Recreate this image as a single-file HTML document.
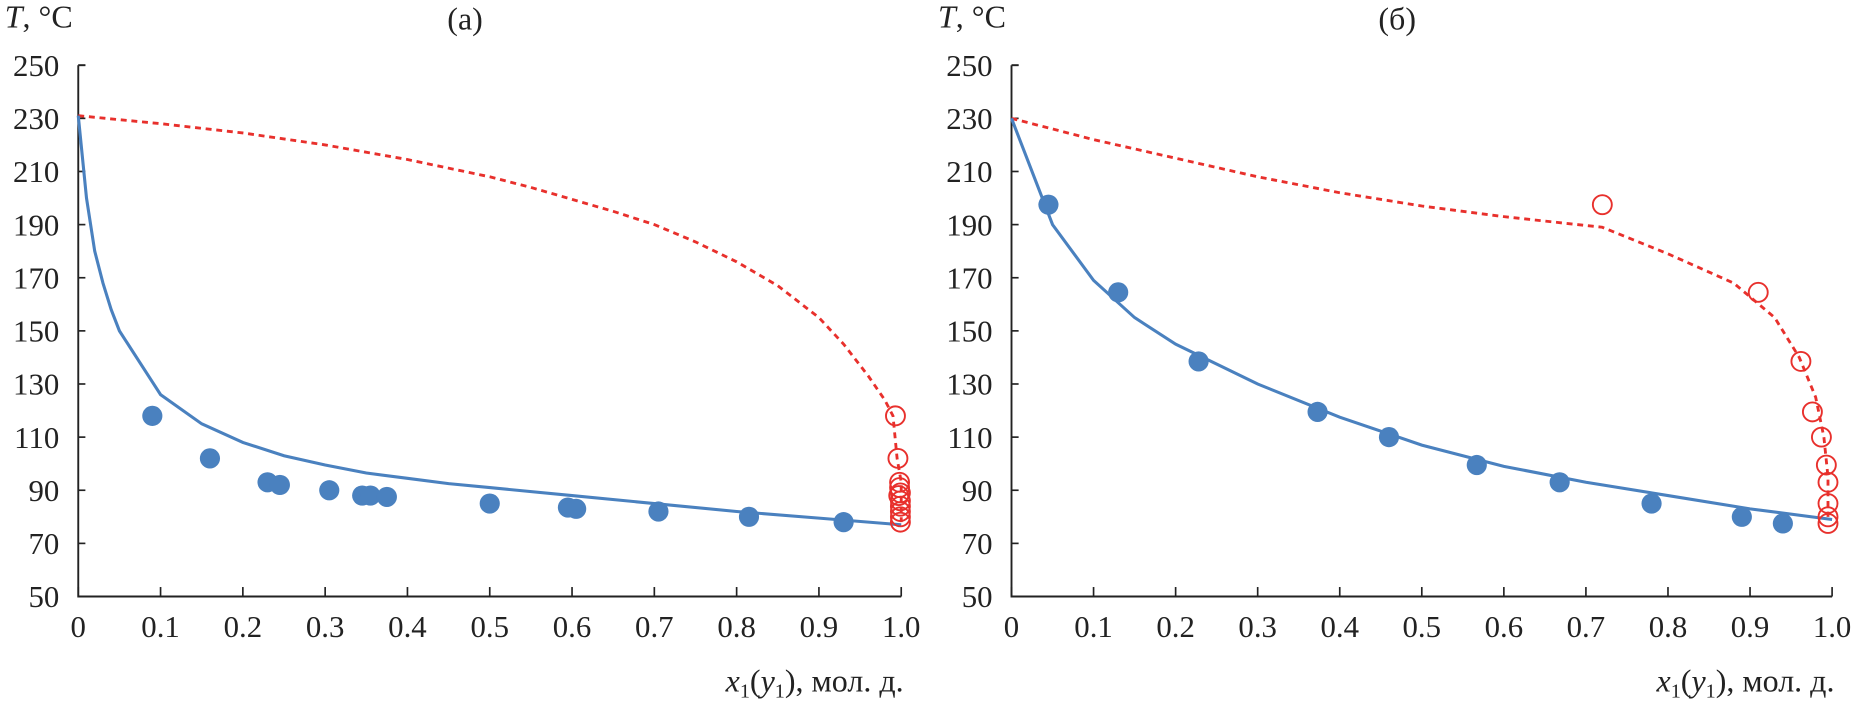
<!DOCTYPE html>
<html><head><meta charset="utf-8"><style>
html,body{margin:0;padding:0;background:#fff;}
svg{display:block;font-family:"Liberation Serif",serif;}
</style></head><body>
<svg id="chart" width="1857" height="710" viewBox="0 0 1566 598.7" preserveAspectRatio="none" xmlns="http://www.w3.org/2000/svg"></svg>
<script>
const yTicks=[50,70,90,110,130,150,170,190,210,230,250];
const xTicks=[0,0.1,0.2,0.3,0.4,0.5,0.6,0.7,0.8,0.9,1.0];
const xTickLabels=["0","0.1","0.2","0.3","0.4","0.5","0.6","0.7","0.8","0.9","1.0"];
// Panel (a)
const aPtsX=[0.09,0.16,0.23,0.245,0.305,0.345,0.355,0.375,0.5,0.595,0.605,0.705,0.815,0.93];
const aPtsY=[118,102,93,92,90,88,88,87.5,85,83.5,83,82,80,78];
const aLineX=[0,0.01,0.02,0.03,0.04,0.05,0.1,0.15,0.2,0.25,0.3,0.35,0.4,0.45,0.5,0.6,0.7,0.8,0.9,1.0];
const aLineY=[231,200,180,168,158,150,126,115,108,103,99.5,96.5,94.5,92.5,91,88,85,82,79.5,77];
const aDashX=[0,0.1,0.2,0.3,0.4,0.5,0.55,0.6,0.65,0.7,0.75,0.8,0.85,0.9,0.93,0.96,0.98,0.99,0.995,1,1];
const aDashY=[231,228,224.5,220,214.5,208,204,199.5,195,190,183.5,176,167,155,145,133,124,118,102,93,78];
const aCircX=[0.993,0.996,0.998,0.998,0.997,0.999,0.999,0.999,0.999,0.999,0.999];
const aCircY=[118,102,93,91,88,89,86,84,82,80,78];
// Panel (б)
const bPtsX=[0.045,0.13,0.228,0.373,0.46,0.567,0.668,0.78,0.89,0.94];
const bPtsY=[197.5,164.5,138.5,119.5,110,99.5,93,85,80,77.5];
const bLineX=[0,0.05,0.1,0.15,0.2,0.3,0.4,0.5,0.6,0.7,0.8,0.9,1];
const bLineY=[230,190,169,155,145,130,117.5,107,99,93,88,83,79];
const bDashX=[0,0.1,0.2,0.3,0.4,0.5,0.6,0.72,0.8,0.88,0.93,0.96,0.98,0.99,0.995,0.995];
const bDashY=[230,222,215,208,202,197,193,189,179,168,155,140,125,110,95,80];
const bCircX=[0.72,0.91,0.962,0.976,0.987,0.993,0.995,0.995,0.995,0.995];
const bCircY=[197.5,164.5,138.5,119.5,110,99.5,93,85,80,77.5];

const NS="http://www.w3.org/2000/svg";
const svg=document.getElementById('chart');
function mk(tag,attrs,parent){const e=document.createElementNS(NS,tag);for(const k in attrs)e.setAttribute(k,attrs[k]);(parent||svg).appendChild(e);return e;}
const Y0=503,Y1=55;
function yS(v){return Y0+(v-50)*(Y1-Y0)/200;}

function panel(name,x0,x1,title,ptsX,ptsY,lineX,lineY,dashX,dashY,circX,circY){
  const xS=v=>x0+v*(x1-x0);
  const g=mk('g',{});
  
  
  const ax=mk('path',{d:`M${x0},${yS(250)}H${x0+6}M${x0},${yS(250)}V${Y0}H${x1}`,stroke:'#222',fill:'none','stroke-width':1.6},g);
  
  
  yTicks.forEach(t=>{
    const tk=mk('line',{x1:x0,x2:x0+6,y1:yS(t),y2:yS(t),stroke:'#222','stroke-width':1.4},g);
    
    
    const l=mk('text',{x:x0-16,y:yS(t)+9,'text-anchor':'end','font-size':26,fill:'#222'},g);
    l.textContent=t;
    
    
  });
  xTicks.forEach((t,i)=>{
    const tk=mk('line',{x1:xS(t),x2:xS(t),y1:Y0,y2:Y0-8,stroke:'#222','stroke-width':1.4},g);
    
    
    const l=mk('text',{x:xS(t),y:537,'text-anchor':'middle','font-size':26,fill:'#222'},g);
    l.textContent=xTickLabels[i];
    
    
  });
  const yt=mk('text',{x:x0-62,y:23,'font-size':27,fill:'#222'},g);
  yt.innerHTML='<tspan font-style="italic">T</tspan>, °C';
  
  
  const tt=mk('text',{x:x0+(x1-x0)*0.47,y:25,'text-anchor':'middle','font-size':27,fill:'#222'},g);
  tt.textContent=title;
  
  
  const xt=mk('text',{x:x1+2,y:583,'text-anchor':'end','font-size':27,fill:'#222'},g);
  xt.innerHTML='<tspan font-style="italic">x</tspan><tspan font-size="17" dy="5">1</tspan><tspan dy="-5">(</tspan><tspan font-style="italic">y</tspan><tspan font-size="17" dy="5">1</tspan><tspan dy="-5">), мол. д.</tspan>';
  
  
  const dl=mk('polyline',{points:dashX.map((v,i)=>xS(v)+','+yS(dashY[i])).join(' '),fill:'none',stroke:'#e8302c','stroke-width':2.4,'stroke-dasharray':'5,4'},g);
  
  
  const bl=mk('polyline',{points:lineX.map((v,i)=>xS(v)+','+yS(lineY[i])).join(' '),fill:'none',stroke:'#4a81bf','stroke-width':2.6},g);
  
  
  ptsX.forEach((v,i)=>{
    const c=mk('circle',{cx:xS(v),cy:yS(ptsY[i]),r:8.5,fill:'#4a81bf'},g);
    
    
  });
  circX.forEach((v,i)=>{
    const c=mk('circle',{cx:xS(v),cy:yS(circY[i]),r:8,fill:'none',stroke:'#e8302c','stroke-width':1.6},g);
    
    
  });
}
panel('a',66,760,'(a)',aPtsX,aPtsY,aLineX,aLineY,aDashX,aDashY,aCircX,aCircY);
panel('b',853,1545,'(б)',bPtsX,bPtsY,bLineX,bLineY,bDashX,bDashY,bCircX,bCircY);
</script>
</body></html>
